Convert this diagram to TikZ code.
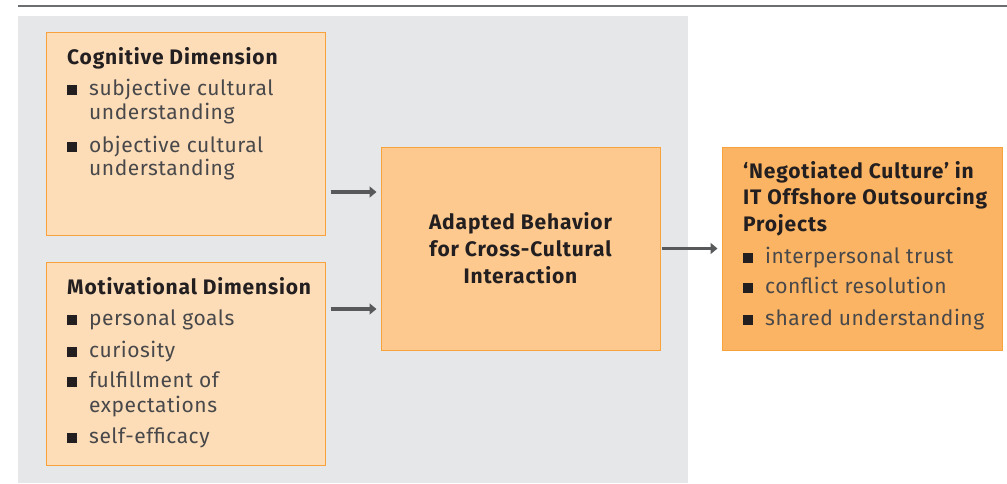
\documentclass[tikz,border=0pt]{standalone}
\usepackage{fontspec}
\setmainfont{Fira Sans}
\newfontfamily\ttlf[LetterSpace=4]{Fira Sans}
\newfontfamily\bodyf[LetterSpace=2.5]{Fira Sans}
\usetikzlibrary{arrows.meta}
\definecolor{bggray}{HTML}{E6E7E9}
\definecolor{lightbox}{HTML}{FDDDB8}
\definecolor{midbox}{HTML}{FDC98F}
\definecolor{darkbox}{HTML}{FBB464}
\definecolor{boxedge}{HTML}{F7A23C}
\definecolor{rulegray}{HTML}{6D6E71}
\definecolor{arrgray}{HTML}{58595B}
\definecolor{titlecol}{HTML}{231F20}
\definecolor{bodycol}{HTML}{48484A}
\newcommand{\bul}{\makebox[22pt][l]{\color{titlecol}\rule{10pt}{10pt}}}
\begin{document}
\begin{tikzpicture}[x=1pt,y=-1pt,
  box/.style={draw=boxedge, line width=1pt, minimum width=279pt, inner sep=0pt},
  ttl/.style={anchor=base west, inner sep=0pt, text=titlecol, font=\ttlf\fontsize{21}{26}\selectfont\bfseries},
  itm/.style={anchor=base west, inner sep=0pt, text=bodycol, font=\bodyf\fontsize{21}{24}\selectfont},
  arr/.style={draw=arrgray, line width=3.6pt, -{Triangle[length=7pt,width=11pt]}}]
\useasboundingbox (0,0) rectangle (1007,483);
\fill[bggray] (18,16) rectangle (688,483);
\draw[rulegray, line width=2pt] (18,6) -- (1007,6);
% boxes
\node[box, fill=lightbox, minimum height=203pt] (cog) at (185.5,133.5) {};
\node[box, fill=lightbox, minimum height=203pt] (mot) at (185.5,363.5) {};
\node[box, fill=midbox, minimum height=203pt, align=center, text=titlecol,
      font=\ttlf\fontsize{21}{27}\selectfont\bfseries] (adapt) at (520.5,248.5)
      {Adapted Behavior\\for Cross-Cultural\\Interaction};
\node[box, fill=darkbox, minimum width=280pt, minimum height=203pt] (outc) at (862,248.5) {};
% cognitive
\node[ttl] (cogt) at (67,64) {Cognitive Dimension};
\node[itm] (c1) at (67,95) {\bul subjective cultural};
\node[itm] (c1b) at (89,119) {understanding};
\node[itm] (c2) at (67,152) {\bul objective cultural};
\node[itm] (c2b) at (89,175) {understanding};
% motivational
\node[ttl] (mott) at (67,294) {Motivational Dimension};
\node[itm] (m1) at (67,325) {\bul personal goals};
\node[itm] (m2) at (67,357) {\bul curiosity};
\node[itm] (m3) at (67,387) {\bul fulfillment of};
\node[itm] (m3b) at (89,412) {expectations};
\node[itm] (m4) at (67,443) {\bul self-efficacy};
% outcome
\node[ttl] (o1) at (743,178) {‘Negotiated Culture’ in};
\node[ttl] (o2) at (743,204) {IT Offshore Outsourcing};
\node[ttl] (o3) at (743,231) {Projects};
\node[itm] (oi1) at (743,263) {\bul interpersonal trust};
\node[itm] (oi2) at (743,293) {\bul conflict resolution};
\node[itm] (oi3) at (743,325) {\bul shared understanding};
% arrows
\coordinate (ya) at (0,192);
\coordinate (yb) at (0,309);
\draw[arr] ([xshift=5pt]cog.east |- ya) -- ([xshift=-4pt]adapt.west |- ya);
\draw[arr] ([xshift=5pt]mot.east |- yb) -- ([xshift=-4pt]adapt.west |- yb);
\draw[arr] ([xshift=1pt]adapt.east) -- ([xshift=-4pt]outc.west);
\end{tikzpicture}
\end{document}
